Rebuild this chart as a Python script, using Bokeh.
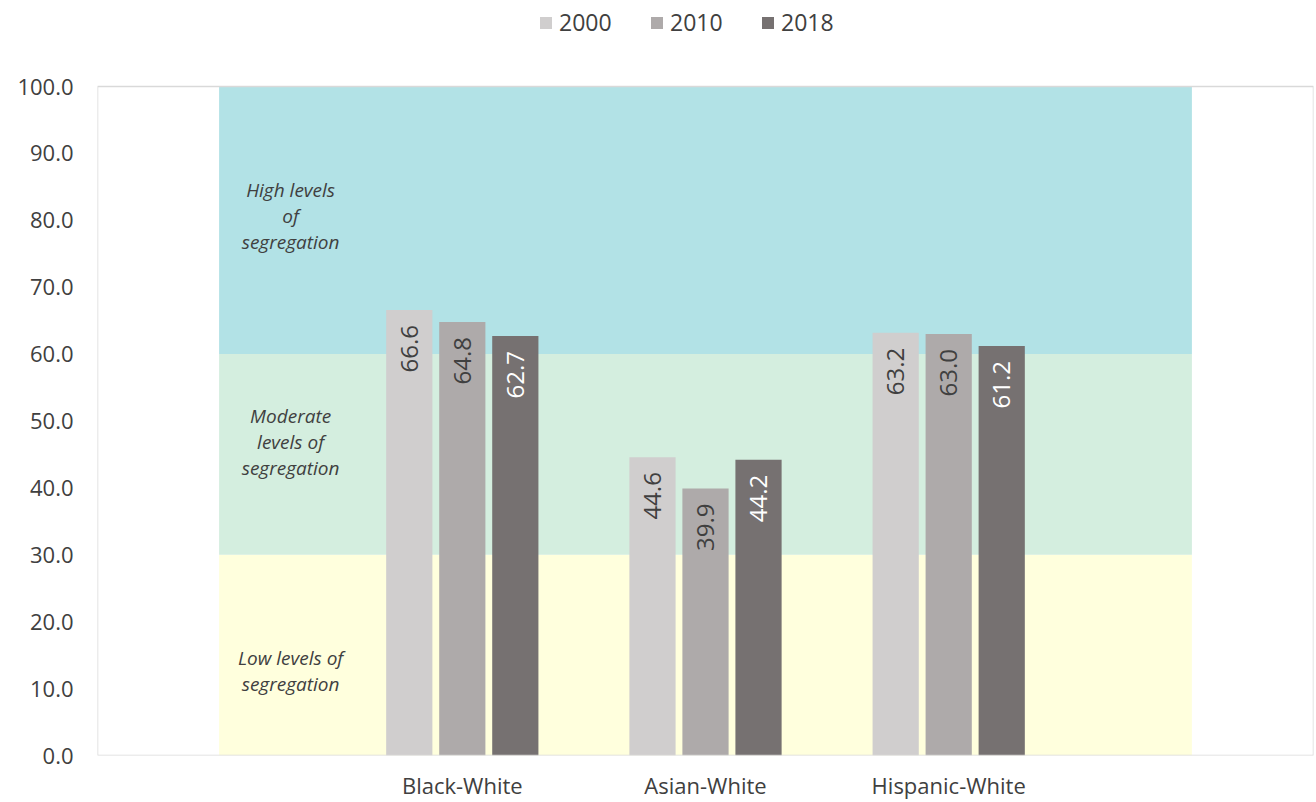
from bokeh.plotting import figure
from bokeh.models import (ColumnDataSource, Range1d, FixedTicker, NumeralTickFormatter,
                          Legend, LegendItem, BoxAnnotation)
from bokeh.core.properties import value
from bokeh.embed import file_html
from bokeh.resources import INLINE

# ---- data ----
categories = ["Black-White", "Asian-White", "Hispanic-White"]
years = ["2000", "2010", "2018"]
v2000 = [66.6, 44.6, 63.2]
v2010 = [64.8, 39.9, 63.0]
v2018 = [62.7, 44.2, 61.2]
y_ticks = [0, 10, 20, 30, 40, 50, 60, 70, 80, 90, 100]

band_bottoms = [0, 30, 60]
band_tops = [30, 60, 100]
band_colors = ["#ffffdd", "#d4eedf", "#b2e2e6"]
band_labels = ["Low levels of\nsegregation",
               "Moderate\nlevels of\nsegregation",
               "High levels\nof\nsegregation"]
band_label_y = [12.7, 46.8, 80.7]

bar_colors = ["#d0cece", "#aeaaaa", "#767171"]
label_colors = ["#404040", "#404040", "#ffffff"]

FONT = "Open Sans"
TXT = "#404040"

# ---- layout helpers (category slots: one empty slot on each side) ----
n_slots = len(categories) + 2
cat_x = [i + 1.5 for i in range(len(categories))]
offsets = [-0.218, 0.0, 0.218]
bar_w = 0.19
y_max = 100
y_top = y_max * 755 / 669   # headroom above the plot box for the legend

p = figure(width=1316, height=802, output_backend="svg", toolbar_location=None,
           x_range=Range1d(0, n_slots), y_range=Range1d(0, y_top),
           min_border_left=97, min_border_right=3, min_border_top=0, min_border_bottom=47)

# background bands
p.quad(left=[0.5] * 3, right=[n_slots - 0.5] * 3, bottom=band_bottoms, top=band_tops,
       fill_color=band_colors, line_color=None)

# band labels
p.text(x=[0.794] * 3, y=band_label_y, text=band_labels, text_font=value(FONT),
       text_font_style="italic", text_font_size="19px", text_color=TXT,
       text_align="center", text_baseline="middle", text_line_height=1.0)

items = []
for vals, yr, col, lc, off in zip([v2000, v2010, v2018], years, bar_colors, label_colors, offsets):
    src = ColumnDataSource(dict(x=[c + off for c in cat_x], top=vals,
                                lab=[f"{v:.1f}" for v in vals]))
    r = p.vbar(x="x", top="top", width=bar_w, bottom=0, source=src,
               fill_color=col, line_color=None)
    p.text(x="x", y="top", text="lab", source=src, angle=1.5708,
           text_align="right", text_baseline="middle", y_offset=15,
           text_font=value(FONT), text_font_size="24px", text_color=lc)
    items.append(LegendItem(label=yr, renderers=[r]))

# plot-box outline
p.add_layout(BoxAnnotation(left=0, right=n_slots, bottom=0, top=y_max,
                           fill_alpha=0, line_color="#d9d9d9", line_alpha=1.0,
                           line_width=1.5))

legend = Legend(items=items, orientation="horizontal", location=(441, 717),
                border_line_color=None, background_fill_alpha=0,
                label_text_font=FONT, label_text_font_size="23px", label_text_color=TXT,
                glyph_width=15, glyph_height=15, spacing=26, label_standoff=6,
                label_width=64, padding=0, margin=0)
p.add_layout(legend, "center")

# axes
p.xaxis.ticker = FixedTicker(ticks=cat_x)
p.xaxis.major_label_overrides = {c: lab for c, lab in zip(cat_x, categories)}
p.yaxis.ticker = FixedTicker(ticks=y_ticks)
p.yaxis.formatter = NumeralTickFormatter(format="0.0")
for ax in (p.xaxis, p.yaxis):
    ax.axis_line_color = None
    ax.major_tick_line_color = None
    ax.minor_tick_line_color = None
    ax.major_tick_out = 0
    ax.major_tick_in = 0
    ax.minor_tick_out = 0
    ax.major_label_text_font = FONT
    ax.major_label_text_font_size = "22px"
    ax.major_label_text_color = TXT
p.xaxis.major_label_standoff = 14
p.yaxis.major_label_standoff = 24
p.xgrid.visible = False
p.ygrid.visible = False
p.outline_line_color = None
p.background_fill_color = "white"

open("out.html", "w").write(file_html(p, INLINE))
